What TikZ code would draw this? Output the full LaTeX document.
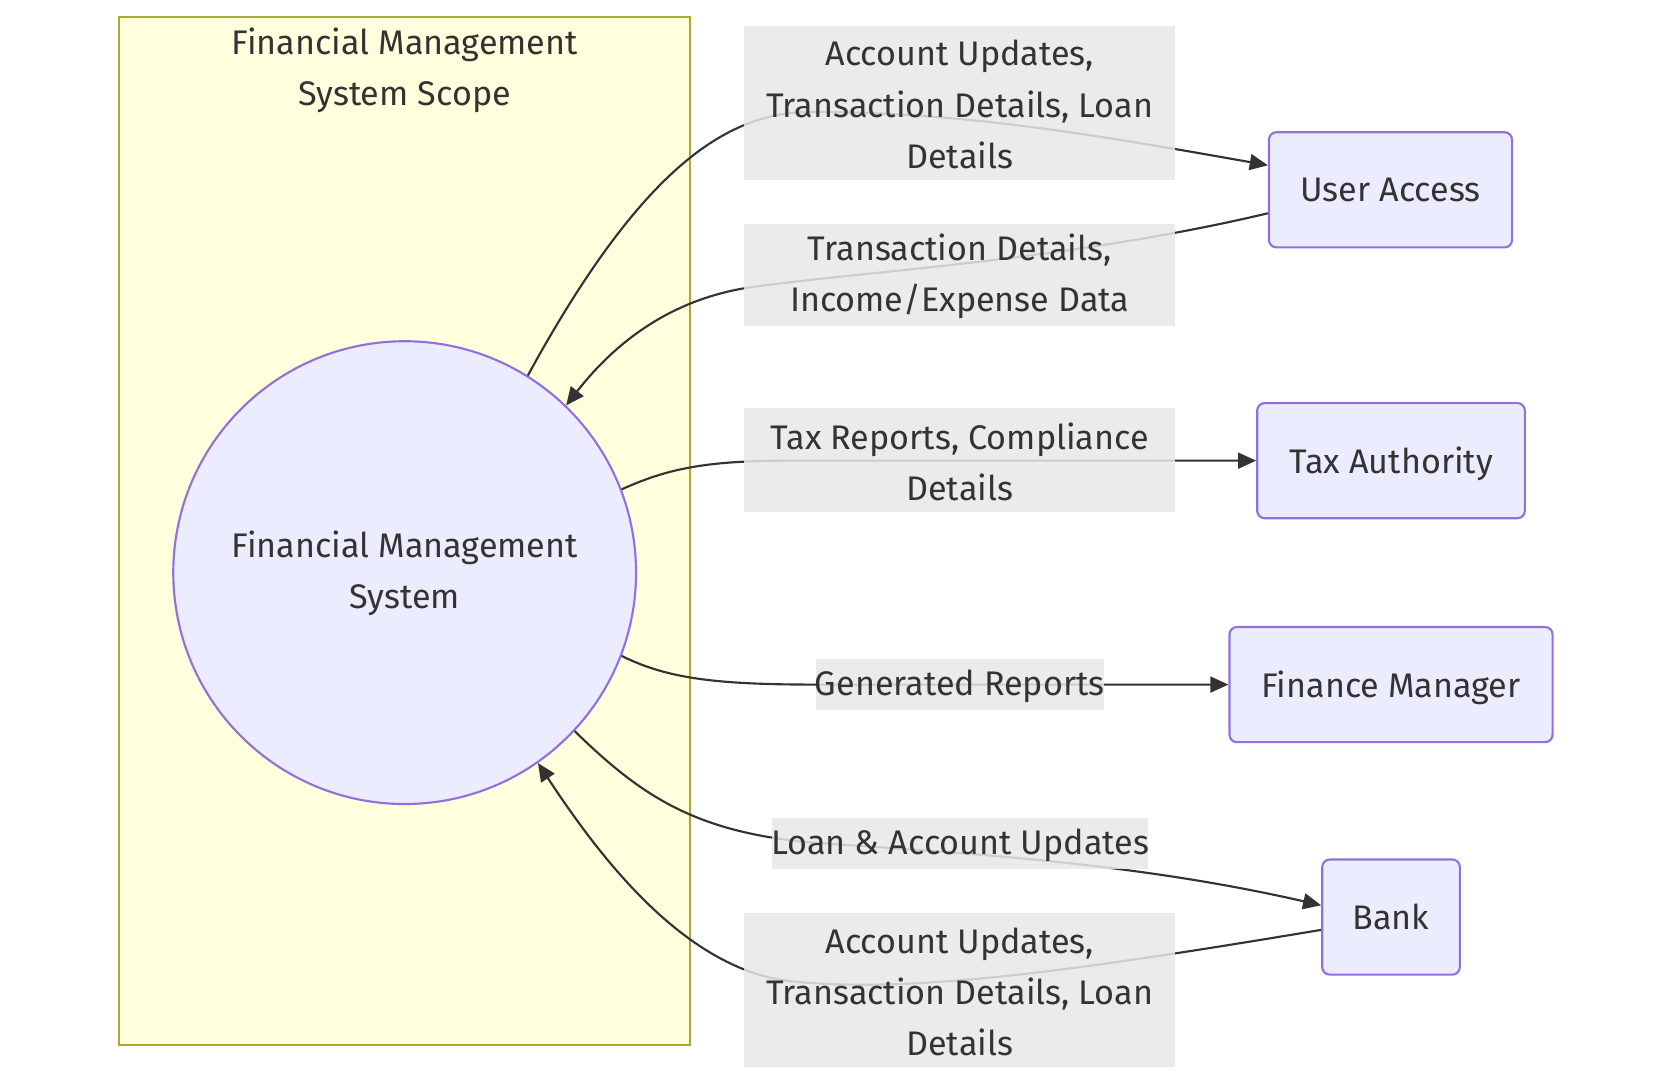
\documentclass[tikz,border=0pt]{standalone}
\usepackage{fontspec}
\setmainfont{Fira Sans}
\usetikzlibrary{arrows.meta}
\definecolor{ink}{HTML}{333333}
\definecolor{nodefill}{HTML}{ECECFF}
\definecolor{nodeline}{HTML}{9370DB}
\definecolor{scopefill}{HTML}{FFFFDE}
\definecolor{scopeline}{HTML}{AAAA33}
\definecolor{lblfill}{HTML}{E8E8E8}
\pgfdeclarelayer{bg}\pgfdeclarelayer{fg}\pgfsetlayers{bg,main,fg}
\begin{document}
\begin{tikzpicture}[x=1pt,y=-1pt,
  txt/.style={font=\fontsize{32}{48}\selectfont, text=ink, align=center},
  entity/.style={txt, draw=nodeline, fill=nodefill, line width=2pt, rounded corners=7pt, minimum height=108pt, inner sep=0pt, text depth=0pt},
  proc/.style={txt, circle, draw=nodeline, fill=nodefill, line width=2pt, minimum size=434pt, inner sep=0pt},
  flowlbl/.style={txt, fill=lblfill, fill opacity=0.85, text opacity=1, inner sep=0pt},
  flow/.style={draw=ink, line width=2pt, -{Triangle[length=17pt,width=15pt]}},
]
\useasboundingbox (0,0) rectangle (1568,1018.4);
\fill[white] (0,0) rectangle (1568,1018.4);
% scope
\node[draw=scopeline, fill=scopefill, line width=2pt, minimum width=535pt, minimum height=964pt, inner sep=0pt] (scope) at (379.5,498) {};
\node[txt] (scopetitle) at (379.5,66) {Financial Management\\System Scope};
% nodes
\node[proc] (fms) at (379.5,537) {};
\node[txt] (fmstext) at (379.5,538) {Financial Management\\System};
\node[entity, minimum width=228pt] (ua) at (1304,178) {User Access};
\node[entity, minimum width=251pt] (ta) at (1304.5,432) {Tax Authority};
\node[entity, minimum width=303pt] (fm) at (1304.5,642) {Finance Manager};
\node[entity, minimum width=129pt] (bank) at (1304.5,860) {Bank};
% labels
\begin{pgfonlayer}{fg}
\node[flowlbl, minimum width=404pt, minimum height=145pt] (l1) at (900,96.5) {};
\node[txt] at (900,98) {Account Updates,\\Transaction Details, Loan\\Details};
\node[flowlbl, minimum width=404pt, minimum height=96pt] (l2) at (900,258) {};
\node[txt] at (900,259.5) {Transaction Details,\\Income/Expense Data};
\node[flowlbl, minimum width=404pt, minimum height=97pt] (l3) at (900,431.5) {};
\node[txt] at (900,433) {Tax Reports, Compliance\\Details};
\node[flowlbl, minimum width=270pt, minimum height=48pt] (l4) at (900,642) {};
\node[txt] at (900,643.5) {Generated Reports};
\node[flowlbl, minimum width=353pt, minimum height=48pt] (l5) at (900.5,791) {};
\node[txt] at (900.5,792.5) {Loan \& Account Updates};
\node[flowlbl, minimum width=404pt, minimum height=145pt] (l6) at (900,928.5) {};
\node[txt] at (900,930) {Account Updates,\\Transaction Details, Loan\\Details};
\end{pgfonlayer}
% flows
\draw[flow] (fms.58.5) .. controls (600,160) and (680,105) .. (760,105) .. controls (900,105) and (1020,125) .. ([yshift=23pt]ua.west);
\draw[flow] ([yshift=-22pt]ua.west) .. controls (1000,245) and (800,255) .. (700,270) .. controls (620,283) and (570,330) .. (fms.46);
\draw[flow] (fms.21.5) .. controls (625,440) and (660,432) .. (740,432) -- (ta.west);
\draw[flow] (fms.-21.8) .. controls (625,636) and (670,642) .. (765,642) -- (fm.west);
\draw[flow] (fms.-43.5) .. controls (600,745) and (650,780) .. (760,790) .. controls (900,800) and (1060,808) .. ([yshift=11pt]bank.west);
\draw[flow] ([yshift=-12pt]bank.west) .. controls (1000,912) and (850,932) .. (740,920) .. controls (640,908) and (560,800) .. (fms.-55.3);
\end{tikzpicture}
\end{document}
